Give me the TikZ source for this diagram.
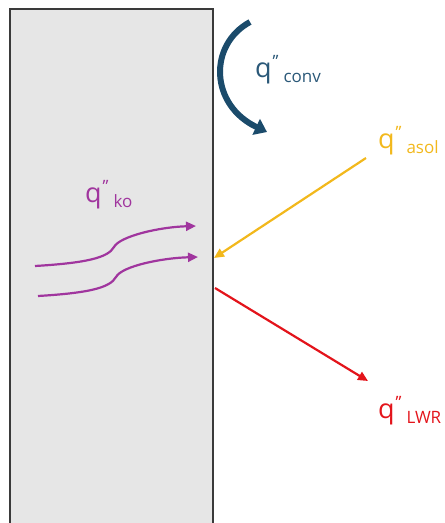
\documentclass[tikz,border=0pt]{standalone}
\usepackage{fontspec}
\setmainfont{Open Sans}
\usepackage{tikz}
\usetikzlibrary{positioning,arrows.meta}
\definecolor{Wall}{HTML}{E6E6E6}
\definecolor{Edge}{HTML}{3A3A3A}
\definecolor{Teal}{HTML}{1B4B6B}
\definecolor{TealTxt}{HTML}{2A5878}
\definecolor{Gold}{HTML}{F2B81C}
\definecolor{Plum}{HTML}{A0359E}
\definecolor{Red}{HTML}{E3141B}
\newcommand{\qflux}[1]{q\hspace{1pt}\raisebox{10pt}{\fontsize{17}{17}\selectfont ’’}\hspace{5pt}\raisebox{-5pt}{\fontsize{17}{17}\selectfont #1}}

\begin{document}
\begin{tikzpicture}[x=1pt,y=-1pt,
    wall/.style={draw=Edge,fill=Wall,line width=1.2pt},
    lbl/.style={inner sep=0pt,anchor=base west,font=\fontsize{27}{27}\selectfont},
    flow/.style={line width=2.2pt,-{Triangle[length=10pt,width=9pt]}},
    conv/.style={line width=6pt,color=Teal,-{Triangle[length=12pt,width=17pt]}}
  ]
    \useasboundingbox (0,0) rectangle (445,523);
    \begin{scope}
    \clip (0,0) rectangle (445,523);
    \draw[wall] (10,9) rectangle (213,540);
    \end{scope}
    % convection
    \coordinate (cv0) at (250,22);
    \coordinate (cv1) at (267,132);
    \draw[conv] (cv0) .. controls (208,45) and (210,105) .. (cv1);
    \node[lbl,text=TealTxt] (qconv) at (255,77) {\qflux{conv}};
    % absorbed solar
    \coordinate (sol0) at (366,158);
    \coordinate (sol1) at (214,258);
    \draw[flow,Gold] (sol0) -- (sol1);
    \node[lbl,text=Gold] (qasol) at (378,148) {\qflux{asol}};
    % conduction
    \coordinate (ko0) at (35,266);
    \coordinate (ko1) at (196,226);
    \coordinate (ko2) at (38,296);
    \coordinate (ko3) at (198,257);
    \draw[flow,Plum] (ko0) .. controls (85,263) and (108,258) .. (114,247)
      .. controls (120,236) and (160,227) .. (ko1);
    \draw[flow,Plum] (ko2) .. controls (88,293) and (110,288) .. (116,277)
      .. controls (122,266) and (162,258) .. (ko3);
    \node[lbl,text=Plum] (qko) at (85,202) {\qflux{ko}};
    % long wave radiation
    \coordinate (lw0) at (215,288);
    \coordinate (lw1) at (368,381);
    \draw[flow,Red] (lw0) -- (lw1);
    \node[lbl,text=Red] (qlwr) at (378,418) {\qflux{LWR}};
  \end{tikzpicture}
\end{document}
